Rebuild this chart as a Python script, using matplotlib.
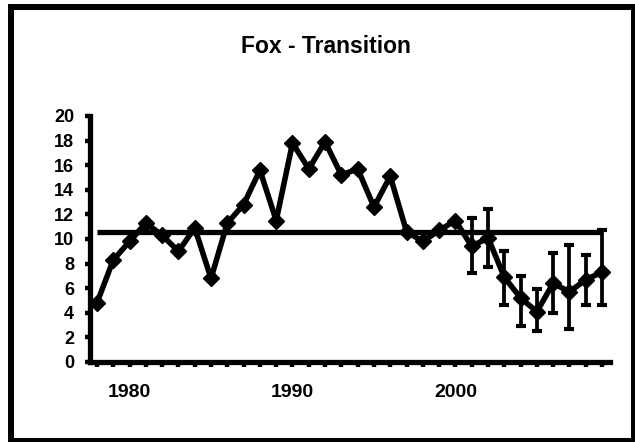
import matplotlib
matplotlib.use("Agg")
import matplotlib.pyplot as plt
from matplotlib.patches import Rectangle

plt.rcParams['font.family'] = ['Liberation Sans', 'DejaVu Sans']

# data
years = list(range(1978, 2010))
values = [4.8, 8.3, 9.8, 11.3, 10.3, 9.0, 10.9, 6.8, 11.3, 12.8,
          15.6, 11.5, 17.8, 15.7, 17.9, 15.2, 15.7, 12.6, 15.1, 10.6,
          9.8, 10.7, 11.5, 9.4, 10.1, 6.9, 5.2, 4.1, 6.4, 5.7,
          6.7, 7.3]
err_years = list(range(2001, 2010))
err_low = [7.2, 7.7, 4.6, 2.9, 2.5, 4.0, 2.7, 4.6, 4.6]
err_high = [11.7, 12.4, 9.0, 7.0, 5.9, 8.9, 9.5, 8.7, 10.7]
mean_value = 10.6
year_labels = [1980, 1990, 2000]
y_ticks = list(range(0, 22, 2))

fig = plt.figure(figsize=(6.35, 4.42), dpi=100)
ax = fig.add_axes([0.1417, 0.181, 0.819, 0.5566])

# mean line
ax.plot([years[0], years[-1]], [mean_value, mean_value], color='black', lw=3.8,
        solid_capstyle='butt', zorder=2)

# main series
ax.plot(years, values, color='black', lw=4.0, marker='D', markersize=8.5,
        markerfacecolor='black', markeredgecolor='black', zorder=3)

# error bars on the last years
ev = [values[years.index(yr)] for yr in err_years]
lo = [v - l for v, l in zip(ev, err_low)]
hi = [h - v for v, h in zip(ev, err_high)]
ax.errorbar(err_years, ev, yerr=[lo, hi], fmt='none', ecolor='black',
            elinewidth=2.7, capsize=3.4, capthick=3.0, zorder=4)

ax.set_xlim(1977.57, 2009.49)
ax.set_ylim(0, 20)

ax.set_xticks(years)
ax.set_xticklabels([str(yr) if yr in year_labels else '' for yr in years],
                   fontsize=14, fontweight='bold')
ax.set_yticks(y_ticks)
ax.set_yticklabels([str(t) for t in y_ticks], fontsize=13, fontweight='bold')

ax.tick_params(axis='x', direction='out', length=3.5, width=3.2, pad=12)
ax.tick_params(axis='y', direction='out', length=3.5, width=3.2, pad=8)

for side in ['top', 'right']:
    ax.spines[side].set_visible(False)
for side in ['left', 'bottom']:
    ax.spines[side].set_linewidth(3.8)

fig.text(0.513, 0.895, 'Fox - Transition', ha='center', va='center',
         fontsize=16.5, fontweight='bold')

# outer frame
fig.patches.append(Rectangle((0.0173, 0.0023), 0.9811, 0.9819,
                             transform=fig.transFigure, fill=False,
                             edgecolor='black', lw=4.3))

fig.savefig('out.png', dpi=100)
